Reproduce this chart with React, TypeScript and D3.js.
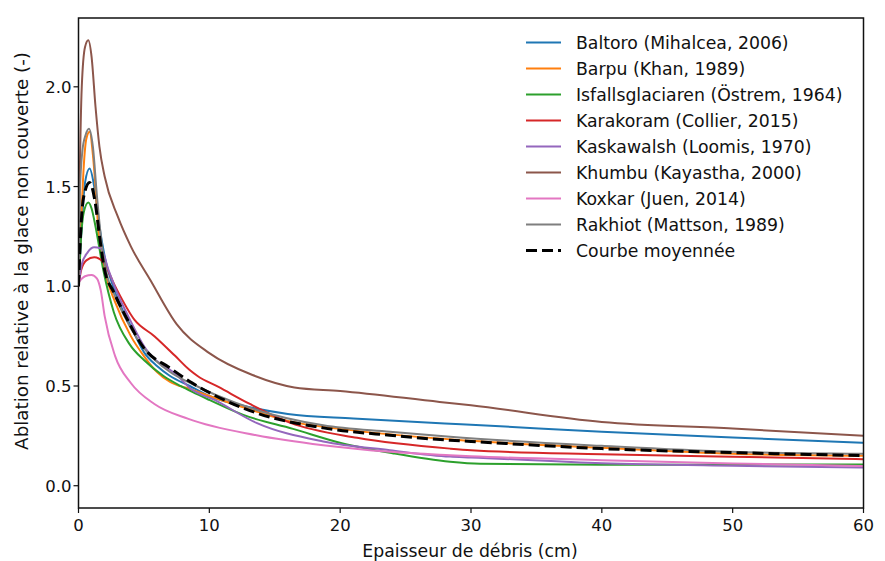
import React from "react";
import * as d3 from "d3";

type P = [number, number];

const baltoro: P[] = [[0,1.0],[0.2,1.25],[0.5,1.52],[0.85,1.59],[1.2,1.5],[1.6,1.3],[2,1.15],[2.8,0.97],[4,0.8],[5,0.67],[6,0.6],[7,0.55],[8.5,0.5],[10,0.45],[13,0.395],[16,0.36],[21,0.337],[28,0.312],[30,0.306],[40,0.27],[50,0.242],[60,0.215]];
const barpu: P[] = [[0,1.0],[0.24,1.38],[0.4,1.6],[0.6,1.74],[0.85,1.775],[1.1,1.66],[1.35,1.45],[1.55,1.25],[2,1.08],[2.8,0.92],[4,0.75],[5,0.65],[6,0.57],[7,0.52],[8.5,0.485],[10,0.45],[13,0.385],[16,0.325],[20,0.285],[30,0.225],[40,0.19],[50,0.16],[60,0.15]];
const isfalls: P[] = [[0,1.0],[0.15,1.2],[0.4,1.37],[0.75,1.42],[1.0,1.39],[1.3,1.3],[1.9,1.08],[2.7,0.87],[3.9,0.71],[5,0.63],[6.5,0.55],[7.8,0.5],[8.7,0.47],[10,0.43],[12.6,0.355],[16.4,0.285],[20.2,0.212],[24,0.163],[28.4,0.12],[30.7,0.11],[40,0.105],[50,0.106],[60,0.107]];
const karakoram: P[] = [[0,1.0],[0.2,1.08],[0.6,1.13],[1.2,1.145],[1.9,1.12],[2.8,1.0],[4.3,0.83],[5.8,0.75],[7.4,0.65],[8.5,0.58],[9.1,0.55],[10.7,0.495],[13.1,0.41],[16.2,0.315],[21.3,0.24],[28.4,0.186],[30,0.178],[40,0.158],[50,0.145],[60,0.133]];
const kaskawalsh: P[] = [[0,1.0],[0.25,1.11],[0.7,1.17],[1.2,1.195],[1.7,1.19],[2.3,1.08],[3,0.96],[3.8,0.85],[5.1,0.69],[7.6,0.55],[8.5,0.49],[10.4,0.43],[13.6,0.315],[18.7,0.222],[23.8,0.178],[28.4,0.146],[30,0.142],[40,0.113],[50,0.1],[60,0.091]];
const khumbu: P[] = [[0,1.0],[0.1,1.55],[0.25,2.0],[0.5,2.2],[0.75,2.233],[1.0,2.15],[1.3,1.9],[1.6,1.7],[2,1.55],[3,1.35],[4,1.2],[5.5,1.03],[7.5,0.81],[10,0.665],[13.3,0.555],[16.5,0.493],[20,0.475],[27.6,0.42],[30,0.403],[40,0.32],[50,0.287],[60,0.25]];
const koxkar: P[] = [[0,1.02],[0.5,1.05],[1.0,1.057],[1.4,1.04],[1.7,0.98],[2.0,0.85],[2.8,0.65],[4,0.515],[5.8,0.41],[8.4,0.335],[13.6,0.253],[18.7,0.203],[23.8,0.17],[28.4,0.153],[30,0.148],[40,0.128],[50,0.112],[60,0.098]];
const rakhiot: P[] = [[0,1.0],[0.1,1.46],[0.3,1.68],[0.55,1.76],[0.8,1.79],[1.1,1.7],[1.4,1.46],[1.8,1.2],[2.2,1.05],[2.8,0.95],[4,0.79],[5,0.69],[7,0.57],[8.7,0.51],[10.5,0.455],[13.6,0.38],[18.7,0.303],[23.8,0.27],[28.4,0.245],[40,0.2],[50,0.17],[60,0.16]];
const moyenne: P[] = [[0,1.0],[0.15,1.25],[0.4,1.45],[0.85,1.52],[1.25,1.43],[1.65,1.23],[2.0,1.08],[2.7,0.97],[3.6,0.85],[5,0.69],[7,0.59],[8.7,0.515],[10.5,0.45],[13.6,0.365],[18.7,0.29],[23.8,0.253],[28.4,0.228],[30,0.222],[40,0.186],[50,0.166],[60,0.151]];

const seriesNames = [
  "Baltoro (Mihalcea, 2006)",
  "Barpu (Khan, 1989)",
  "Isfallsglaciaren (Östrem, 1964)",
  "Karakoram (Collier, 2015)",
  "Kaskawalsh (Loomis, 1970)",
  "Khumbu (Kayastha, 2000)",
  "Koxkar (Juen, 2014)",
  "Rakhiot (Mattson, 1989)",
];
const seriesData = [baltoro, barpu, isfalls, karakoram, kaskawalsh, khumbu, koxkar, rakhiot];
const seriesColors = ["#1f77b4", "#ff7f0e", "#2ca02c", "#d62728", "#9467bd", "#8c564b", "#e377c2", "#7f7f7f"];
const meanName = "Courbe moyennée";

const xTicks = [0, 10, 20, 30, 40, 50, 60];
const yTicks = [0.0, 0.5, 1.0, 1.5, 2.0];
const xLabel = "Epaisseur de débris (cm)";
const yLabel = "Ablation relative à la glace non couverte (-)";

const W = 885, H = 561;
const L = 78.5, R = 863.5, T = 18, B = 508;
const FONT = "DejaVu Sans, sans-serif";

export default function App() {
  const x = d3.scaleLinear().domain([0, 60]).range([L, R]);
  const y = d3.scaleLinear().domain([-0.1117, 2.345]).range([B, T]);
  const line = d3.line<P>().x(d => x(d[0])).y(d => y(d[1])).curve(d3.curveMonotoneX);

  return (
    <svg width={W} height={H} style={{ position: "absolute", left: 0, top: 0, background: "#fff" }} fontFamily={FONT}>
      <defs>
        <clipPath id="plot"><rect x={L} y={T} width={R - L} height={B - T} /></clipPath>
      </defs>
      <g clipPath="url(#plot)">
        {seriesData.map((s, i) => (
          <path key={i} d={line(s) || ""} fill="none" stroke={seriesColors[i]} strokeWidth={2} strokeLinejoin="round" />
        ))}
        <path d={line(moyenne) || ""} fill="none" stroke="#000" strokeWidth={3} strokeDasharray="11 5" />
      </g>
      <rect x={L} y={T} width={R - L} height={B - T} fill="none" stroke="#111" strokeWidth={1.5} />
      {xTicks.map(t => (
        <g key={t}>
          <line x1={x(t)} x2={x(t)} y1={B} y2={B + 5} stroke="#111" strokeWidth={1.2} />
          <text x={x(t)} y={B + 23} fontSize={16.5} textAnchor="middle" fill="#111">{t}</text>
        </g>
      ))}
      {yTicks.map(t => (
        <g key={t}>
          <line x1={L - 5} x2={L} y1={y(t)} y2={y(t)} stroke="#111" strokeWidth={1.2} />
          <text x={L - 7} y={y(t) + 6} fontSize={16.5} textAnchor="end" fill="#111">{t.toFixed(1)}</text>
        </g>
      ))}
      <text x={(L + R) / 2 - 1} y={557} fontSize={17.3} textAnchor="middle" fill="#111">{xLabel}</text>
      <text transform={`translate(28,${251}) rotate(-90)`} fontSize={18.3} textAnchor="middle" fill="#111">{yLabel}</text>
      {seriesNames.map((n, i) => {
        const yy = 42.5 + i * 26;
        return (
          <g key={n}>
            <line x1={526} x2={561} y1={yy} y2={yy} stroke={seriesColors[i]} strokeWidth={2} />
            <text x={576} y={yy + 6} fontSize={17.3} fill="#111">{n}</text>
          </g>
        );
      })}
      <g>
        <line x1={526} x2={561} y1={42.5 + 8 * 26} y2={42.5 + 8 * 26} stroke="#000" strokeWidth={3} strokeDasharray="11 5" />
        <text x={576} y={42.5 + 8 * 26 + 6} fontSize={17.3} fill="#111">{meanName}</text>
      </g>
    </svg>
  );
}
